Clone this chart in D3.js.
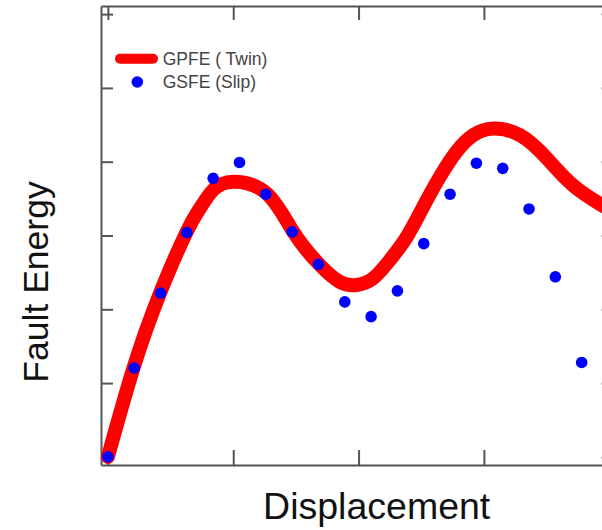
<!DOCTYPE html>
<html>
<head>
<meta charset="utf-8">
<script src="https://cdn.jsdelivr.net/npm/d3@7"></script>
<style>
  html, body { margin: 0; padding: 0; background: #fff; }
  svg { display: block; }
  text { font-family: "Liberation Sans", Arial, Helvetica, sans-serif; }
</style>
</head>
<body>
<svg id="chart" width="602" height="530"></svg>
<script>
// ---- Data ----
const slipX = [0, 0.21, 0.42, 0.63, 0.84, 1.05, 1.26, 1.47, 1.68, 1.89, 2.10, 2.31, 2.52, 2.73, 2.94, 3.15, 3.36, 3.57, 3.78];
const slipY = [0, 1.205, 2.22, 3.04, 3.775, 3.99, 3.56, 3.05, 2.61, 2.10, 1.90, 2.25, 2.89, 3.56, 3.98, 3.91, 3.36, 2.44, 1.28];

const twinX = [0, 0.203, 0.416, 0.629, 0.735, 0.841, 1.0, 1.267, 1.479, 1.685, 1.852, 1.985, 2.117, 2.251, 2.384, 2.516, 2.65, 2.783, 2.915, 3.075, 3.288, 3.5, 3.711, 3.943, 4.05];
const twinY = [0, 1.20, 2.22, 3.05, 3.37, 3.62, 3.73, 3.57, 3.05, 2.61, 2.37, 2.33, 2.42, 2.67, 2.98, 3.39, 3.80, 4.14, 4.36, 4.45, 4.36, 4.05, 3.68, 3.41, 3.30];

const xTicks = [0, 1, 2, 3, 4];
const yTicks = [0, 1, 2, 3, 4, 5, 6];
const legendLabels = ["GPFE ( Twin)", "GSFE (Slip)"];
const xTitle = "Displacement";
const yTitle = "Fault Energy";

// ---- Scales ----
const svg = d3.select("#chart");
const x = d3.scaleLinear().domain([-0.055, 4.03]).range([101, 613]);
const y = d3.scaleLinear().domain([-0.11, 6.11]).range([465, 6]);

const axisColor = "#555";

// clip
svg.append("defs").append("clipPath").attr("id", "plot")
  .append("rect").attr("x", x.range()[0]).attr("y", y.range()[1])
  .attr("width", x.range()[1] - x.range()[0]).attr("height", y.range()[0] - y.range()[1]);

// ---- Axes (ticks point inward) ----
function styleAxis(g) {
  g.selectAll("path.domain").attr("stroke", axisColor).attr("stroke-width", 2);
  g.selectAll(".tick line").attr("stroke", axisColor).attr("stroke-width", 2);
  g.selectAll(".tick text").remove();
}
svg.append("g").attr("transform", `translate(0,${y.range()[0]})`)
  .call(d3.axisBottom(x).tickValues(xTicks).tickSize(-15).tickSizeOuter(0).tickFormat(""))
  .call(styleAxis);
svg.append("g").attr("transform", `translate(0,${y.range()[1]})`)
  .call(d3.axisTop(x).tickValues(xTicks).tickSize(-14).tickSizeOuter(0).tickFormat(""))
  .call(styleAxis);
svg.append("g").attr("transform", `translate(${x.range()[0]},0)`)
  .call(d3.axisLeft(y).tickValues(yTicks).tickSize(-12).tickSizeOuter(0).tickFormat(""))
  .call(styleAxis);
svg.append("g").attr("transform", `translate(${x.range()[1]},0)`)
  .call(d3.axisRight(y).tickValues(yTicks).tickSize(-12).tickSizeOuter(0).tickFormat(""))
  .call(g => { styleAxis(g); g.selectAll(".tick line").attr("stroke", "#bbb"); });

// ---- Twin curve ----
const twin = twinX.map((v, i) => [v, twinY[i]]);
svg.append("path")
  .attr("clip-path", "url(#plot)")
  .attr("d", d3.line().x(d => x(d[0])).y(d => y(d[1])).curve(d3.curveNatural)(twin))
  .attr("fill", "none").attr("stroke", "#ff0000").attr("stroke-width", 14)
  .attr("stroke-linecap", "round").attr("stroke-linejoin", "round");

// ---- Slip dots ----
const slip = slipX.map((v, i) => [v, slipY[i]]);
svg.append("g").selectAll("circle").data(slip).join("circle")
  .attr("cx", d => x(d[0])).attr("cy", d => y(d[1])).attr("r", 5.8)
  .attr("fill", "#0000ff");

// ---- Legend ----
const lg = svg.append("g");
lg.append("line").attr("x1", 120).attr("x2", 153).attr("y1", 58.7).attr("y2", 58.7)
  .attr("stroke", "#ff0000").attr("stroke-width", 10).attr("stroke-linecap", "round");
lg.append("circle").attr("cx", 137.3).attr("cy", 82).attr("r", 5.8).attr("fill", "#0000ff");
lg.selectAll("text").data(legendLabels).join("text")
  .attr("x", 162.7).attr("y", (d, i) => 65 + i * 23.3)
  .attr("font-size", 17.5).attr("fill", "#444").text(d => d);

// ---- Titles ----
svg.append("text").attr("x", 376.7).attr("y", 519).attr("text-anchor", "middle")
  .attr("font-size", 37.5).attr("fill", "#111").text(xTitle);
svg.append("text").attr("transform", "translate(48.3,282) rotate(-90)")
  .attr("text-anchor", "middle").attr("font-size", 35.5).attr("fill", "#111").text(yTitle);
</script>
</body>
</html>
